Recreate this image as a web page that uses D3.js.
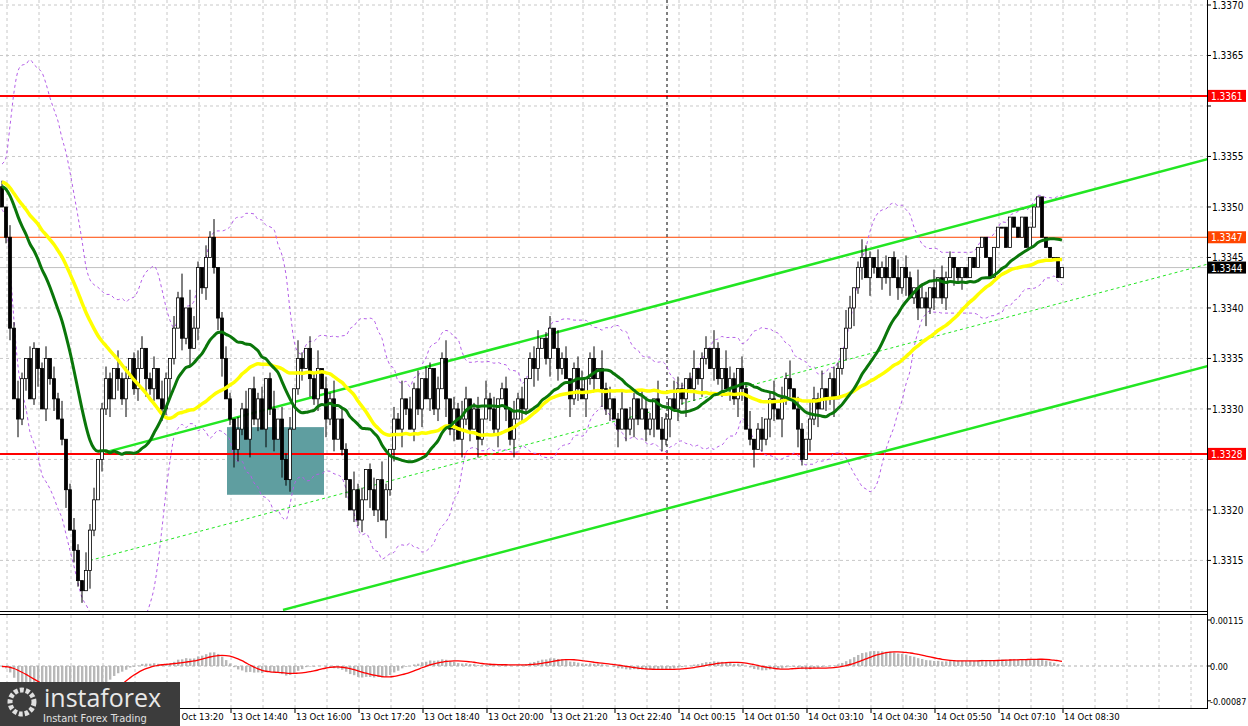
<!DOCTYPE html>
<html><head><meta charset="utf-8">
<script src="https://cdn.jsdelivr.net/npm/d3@7/dist/d3.min.js"></script>
<style>body{margin:0;background:#fff}svg{display:block;font-family:"DejaVu Sans Condensed","DejaVu Sans",sans-serif}</style>
</head><body><svg id="c" width="1248" height="726"></svg>
<script>
// prices in pips above 1.3300
const priorCloses = [54,55,53,54,52,53,55,54,53,52,54,53,52,51,53,52,54,53,52,51,53,52,51,52,53,52,51,50,52,51,52,53,54,52,51,53,52,54,53,52];
const closes = [50,47,38,31,29, 33,35,31,36,34, 30,35,33,31,29, 27,22,18,16,13,
 12,14,18,21,25, 30,33,31,34,33, 31,33,35,32,34, 36,33,32,34,31,
 30,33,35,38,41, 37,40,36,38,44, 42,45,47,44,39, 35,31,29,26,28,
 30,27,32,29,31, 28,33,30,27,29, 25,23,28,32,35, 34,36,33,31,34,
 32,29,31,27,29, 26,23,20,22,19, 21,24,22,20,23, 19,22,26,29,28,
 31,30,28,32,30, 33,31,34,30,32, 35,31,28,30,27, 29,31,28,30,27,
 29,31,30,28,31, 32,30,27,29,31, 30,33,35,34,36, 37,35,38,36,34,
 35,33,31,34,32, 31,33,35,33,34, 32,30,31,29,28, 30,28,29,31,29,
 30,28,29,31,28, 27,29,31,30,32, 31,33,32,34,33, 35,36,34,36,33,
 34,32,33,31,34, 32,28,27,26,28, 27,29,31,30,29, 31,33,32,30,28,
 25,27,29,31,30, 32,31,33,31,34, 36,38,40,42,44, 45,43,45,44,43,
 44,43,45,43,42, 44,43,41,42,40, 41,40,42,41,43, 41,43,45,44,43,
 44,43,45,44,46, 47,45,43,46,48, 48,46,49,48,47, 49,46,48,50,51,
 47,46,45,45,43,44];
const firstOpen = 52;
const wickUp = "1021310210120213012103120121031201320120310214032102130121021302120130212031021302130210312012031021302130210213021320120312012031201230120312012301203120130210321032103210130120310321021301201302130210321301210320132103120130210321030211";
const wickDn = "0120312013021201302120310213021301203120213102130212012301321031203120312012031203120130212031203120310213021203120312031021302130210320130210312031203120302131021302130213021310213021320130213203120310213021301203120310213021301203120120312";
const priceTicks = [1.3315,1.3320,1.3325,1.3330,1.3335,1.3340,1.3345,1.3350,1.3355,1.3360,1.3365,1.3370];
const timeLabels = ["13 Oct 13:20","13 Oct 14:40","13 Oct 16:00","13 Oct 17:20","13 Oct 18:40","13 Oct 20:00","13 Oct 21:20","13 Oct 22:40","14 Oct 00:15","14 Oct 01:50","14 Oct 03:10","14 Oct 04:30","14 Oct 05:50","14 Oct 07:10","14 Oct 08:30"];
const levels = [{v:61,label:"1.3361",color:"#ff0000",w:2,box:"#ff0000"},{v:47,label:"1.3347",color:"#ff4500",w:1,box:"#ff4500"},{v:44,label:"1.3344",color:"#c0c0c0",w:1,box:"#000"},{v:25.55,label:"1.3328",color:"#ff0000",w:2,box:"#ff0000"}];
const channels = [{i0:25.75,p0:25.7,i1:311.5,p1:55.8,dash:null,w:2.5},{i0:70.25,p0:10.1,i1:311.5,p1:35.3,dash:null,w:2.5},{i0:22,p0:15.0,i1:311.5,p1:45.4,dash:"3,3",w:1}];
const zone = {i0:56.25,i1:80.5,p0:28.2,p1:21.5};
const macdTicks = [{v:0.00115,t:"0.00115"},{v:0,t:"0.00"},{v:-0.00087,t:"-0.00087"}];

const svg = d3.select("#c");
const x = d3.scaleLinear().domain([0,1]).range([2,6]);
const y = d3.scaleLinear().domain([0,70]).range([711.9,5]);
const ym = d3.scaleLinear().domain([0,0.00115]).range([666,620]);
const R = 1207;
const main = svg.append("g");
main.append("defs").append("clipPath").attr("id","cp").append("rect").attr("width",R).attr("height",611);
const gl = main.append("g").attr("stroke","#c8c8c8").attr("stroke-dasharray","3,3");
priceTicks.forEach(t=>gl.append("line").attr("x1",0).attr("x2",R).attr("y1",y((t-1.33)*1e4)).attr("y2",y((t-1.33)*1e4)));
for(let k=0;k<38;k++){const gx=x(1.25+8*k); if(gx<R){gl.append("line").attr("x1",gx).attr("x2",gx).attr("y1",0).attr("y2",611);gl.append("line").attr("x1",gx).attr("x2",gx).attr("y1",615).attr("y2",708);}}
const pm = main.append("g").attr("clip-path","url(#cp)");
pm.append("rect").attr("x",x(zone.i0)).attr("width",x(zone.i1)-x(zone.i0)).attr("y",y(zone.p0)).attr("height",y(zone.p1)-y(zone.p0)).attr("fill","#5f9ea0");
levels.forEach(l=>pm.append("line").attr("x1",0).attr("x2",R).attr("y1",y(l.v)).attr("y2",y(l.v)).attr("stroke",l.color).attr("stroke-width",l.w));
pm.append("line").attr("x1",x(166.25)).attr("x2",x(166.25)).attr("y1",0).attr("y2",708).attr("stroke","#000").attr("stroke-dasharray","3,3");
const data = closes.map((c,i)=>{const o=i?closes[i-1]:firstOpen;return {i,o,c,h:Math.max(o,c)+(+wickUp[i]||0)*0.6,l:Math.min(o,c)-(+wickDn[i]||0)*0.6};});
const all = priorCloses.concat(closes), off = priorCloses.length;
function sma(n,arr){return arr.map((_,i)=>d3.mean(arr.slice(Math.max(0,i-n+1),i+1)));}
function ema(n,arr){const k=2/(n+1);let e=arr[0];return arr.map(v=>e=v*k+e*(1-k));}
const bb = closes.map((_,i)=>{const s=all.slice(off+i-19,off+i+1);const m=d3.mean(s),sd=d3.deviation(s)||0;return {i,u:m+2*sd,l:m-2*sd};});
const line = d3.line().curve(d3.curveMonotoneX);
pm.append("path").attr("d",line(bb.map(d=>[x(d.i),y(d.u)]))).attr("fill","none").attr("stroke","#b45ee8").attr("stroke-dasharray","3,3");
pm.append("path").attr("d",line(bb.map(d=>[x(d.i),y(d.l)]))).attr("fill","none").attr("stroke","#b45ee8").attr("stroke-dasharray","3,3");
channels.forEach(c=>pm.append("line").attr("x1",x(c.i0)).attr("y1",y(c.p0)).attr("x2",x(c.i1)).attr("y2",y(c.p1)).attr("stroke","#22e622").attr("stroke-width",c.w).attr("stroke-dasharray",c.dash));
const cg = pm.append("g");
data.forEach(d=>{
  cg.append("line").attr("x1",x(d.i)).attr("x2",x(d.i)).attr("y1",y(d.h)).attr("y2",y(d.l)).attr("stroke","#000");
  const t=y(Math.max(d.o,d.c)),b=y(Math.min(d.o,d.c));
  cg.append("rect").attr("x",x(d.i)-1.5).attr("width",3).attr("y",t).attr("height",Math.max(1,b-t)).attr("fill",d.c>d.o?"#fff":"#000").attr("stroke","#000").attr("stroke-width",0.8);
});
const sSlow=sma(40,all).slice(off), sFast=sma(21,all).slice(off);
pm.append("path").attr("d",line(sSlow.map((v,i)=>[x(i),y(v)]))).attr("fill","none").attr("stroke","#ffff00").attr("stroke-width",3.5);
pm.append("path").attr("d",line(sFast.map((v,i)=>[x(i),y(v)]))).attr("fill","none").attr("stroke","#0a760a").attr("stroke-width",3);
// MACD
const e12=ema(12,all), e26=ema(26,all);
const macdAll = e12.map((v,i)=>(v-e26[i])*1e-4);
const macd = macdAll.slice(off), sig = sma(9,macdAll).slice(off);
const mg = main.append("g");
macd.forEach((v,i)=>mg.append("rect").attr("x",x(i)-1).attr("width",2.4).attr("y",Math.min(ym(v),ym(0))).attr("height",Math.abs(ym(v)-ym(0))).attr("fill","#b8b8b8"));
mg.append("line").attr("x1",0).attr("x2",R).attr("y1",ym(0)).attr("y2",ym(0)).attr("stroke","#b0b0b0").attr("stroke-dasharray","3,3");
mg.append("path").attr("d",line(sig.map((v,i)=>[x(i),ym(v)]))).attr("fill","none").attr("stroke","#ff0000").attr("stroke-width",1.3);
const fr = svg.append("g").attr("stroke","#000");
fr.append("line").attr("x1",0).attr("x2",R).attr("y1",611.5).attr("y2",611.5);
fr.append("line").attr("x1",0).attr("x2",R).attr("y1",614.5).attr("y2",614.5);
fr.append("line").attr("x1",0).attr("x2",R).attr("y1",708.5).attr("y2",708.5);
fr.append("line").attr("x1",R+0.5).attr("x2",R+0.5).attr("y1",0).attr("y2",709);
priceTicks.forEach(t=>{const yy=y((t-1.33)*1e4);svg.append("line").attr("x1",R).attr("x2",R+4).attr("y1",yy).attr("y2",yy).attr("stroke","#000");
  if(!levels.some(l=>Math.abs(y(l.v)-yy)<11&&l.v!==44)) svg.append("text").attr("x",1212).attr("y",yy+4).attr("font-size",10).text(t.toFixed(4));});
levels.forEach(l=>{const yy=y(l.v);svg.append("rect").attr("x",1208).attr("y",yy-6).attr("width",38).attr("height",12).attr("fill",l.box);svg.append("text").attr("x",1211).attr("y",yy+4).attr("font-size",10).attr("fill","#fff").text(l.label);});
macdTicks.forEach(m=>{svg.append("line").attr("x1",R).attr("x2",R+4).attr("y1",ym(m.v)).attr("y2",ym(m.v)).attr("stroke","#000");svg.append("text").attr("x",1210).attr("y",ym(m.v)+4).attr("font-size",9).text(m.t);});
timeLabels.forEach((t,k)=>{const xx=x(41.25+16*k);svg.append("line").attr("x1",xx).attr("x2",xx).attr("y1",709).attr("y2",713).attr("stroke","#000");svg.append("text").attr("x",xx+1).attr("y",720).attr("font-size",9.5).text(t);});
const lg = svg.append("g");
lg.append("rect").attr("x",0).attr("y",682).attr("width",180).attr("height",44).attr("fill","#3c3c3c");
lg.append("circle").attr("cx",22).attr("cy",702).attr("r",12).attr("fill","none").attr("stroke","#e0e0e0").attr("stroke-width",5).attr("stroke-dasharray","4,2");
lg.append("text").attr("x",44).attr("y",707).attr("font-size",25).attr("fill","#e8e8e8").attr("font-family","Open Sans").text("instaforex");
lg.append("text").attr("x",43).attr("y",722).attr("font-size",11).attr("fill","#e0e0e0").text("Instant Forex Trading");
</script></body></html>
